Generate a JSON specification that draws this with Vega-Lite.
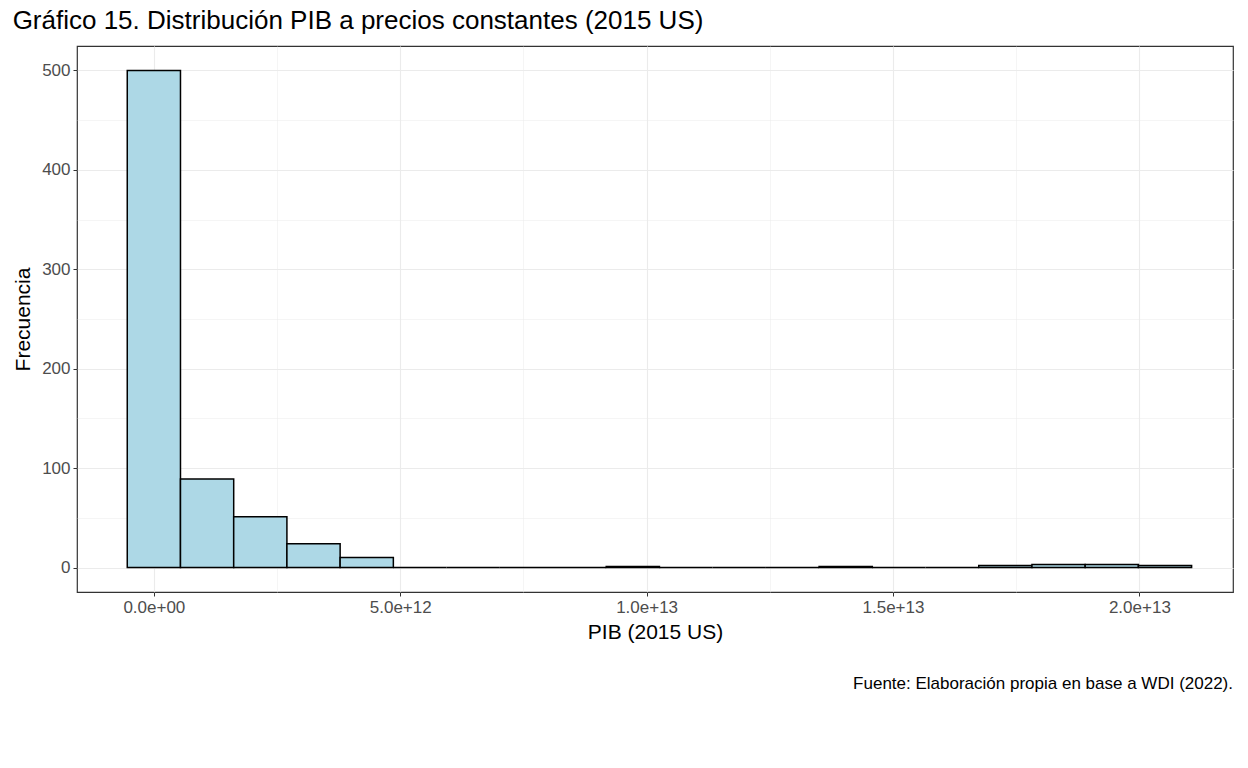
{
  "$schema": "https://vega.github.io/schema/vega-lite/v6.json",
  "width": 1248,
  "height": 768,
  "autosize": {"type": "fit", "contains": "padding"},
  "padding": {"left": 12, "right": 15, "top": 8, "bottom": 38},
  "background": "white",
  "title": {"text": "Gráfico 15. Distribución PIB a precios constantes (2015 US)", "anchor": "start", "font": "Liberation Sans", "fontSize": 26, "fontWeight": "normal", "color": "black", "offset": 12},
  "config": {"view": {"stroke": "#333333", "strokeWidth": 1.2}, "font": "Liberation Sans"},
  "data": {"values": [
    {"x0": -0.54e12, "x1": 0.54e12, "n": 500, "z": 0},
    {"x0": 0.54e12, "x1": 1.62e12, "n": 89, "z": 0},
    {"x0": 1.62e12, "x1": 2.70e12, "n": 51, "z": 0},
    {"x0": 2.70e12, "x1": 3.78e12, "n": 24, "z": 0},
    {"x0": 3.78e12, "x1": 4.86e12, "n": 10, "z": 0},
    {"x0": 4.86e12, "x1": 5.94e12, "n": 0, "z": 0},
    {"x0": 5.94e12, "x1": 7.02e12, "n": 0, "z": 0},
    {"x0": 7.02e12, "x1": 8.10e12, "n": 0, "z": 0},
    {"x0": 8.10e12, "x1": 9.18e12, "n": 0, "z": 0},
    {"x0": 9.18e12, "x1": 10.26e12, "n": 1, "z": 0},
    {"x0": 10.26e12, "x1": 11.34e12, "n": 0, "z": 0},
    {"x0": 11.34e12, "x1": 12.42e12, "n": 0, "z": 0},
    {"x0": 12.42e12, "x1": 13.50e12, "n": 0, "z": 0},
    {"x0": 13.50e12, "x1": 14.58e12, "n": 1, "z": 0},
    {"x0": 14.58e12, "x1": 15.66e12, "n": 0, "z": 0},
    {"x0": 15.66e12, "x1": 16.74e12, "n": 0, "z": 0},
    {"x0": 16.74e12, "x1": 17.82e12, "n": 2, "z": 0},
    {"x0": 17.82e12, "x1": 18.90e12, "n": 3, "z": 0},
    {"x0": 18.90e12, "x1": 19.98e12, "n": 3, "z": 0},
    {"x0": 19.98e12, "x1": 21.06e12, "n": 2, "z": 0}
  ]},
  "layer": [
    {
      "mark": {"type": "rect", "fill": "#add8e6", "stroke": "black", "strokeWidth": 1.5},
      "encoding": {
        "x": {"field": "x0", "type": "quantitative",
          "scale": {"domain": [-1.56e12, 21.9e12], "nice": false, "zero": false},
          "title": "PIB (2015 US)",
          "axis": {"values": [-2.5e12, 0, 2.5e12, 5e12, 7.5e12, 1e13, 1.25e13, 1.5e13, 1.75e13, 2e13],
            "labelExpr": "datum.value === 0 ? '0.0e+00' : datum.value === 5e12 ? '5.0e+12' : datum.value === 1e13 ? '1.0e+13' : datum.value === 1.5e13 ? '1.5e+13' : datum.value === 2e13 ? '2.0e+13' : ''",
            "gridColor": "#ebebeb",
            "gridWidth": {"condition": {"test": "datum.value % 5e12 === 0", "value": 1.1}, "value": 0.5},
            "tickColor": {"condition": {"test": "datum.value % 5e12 === 0", "value": "#333333"}, "value": "transparent"},
            "tickSize": 4,
            "domain": false, "labelColor": "#4d4d4d", "labelFontSize": 17, "titleFontSize": 21, "titleFontWeight": "normal", "titleColor": "black", "labelPadding": 3, "titlePadding": 6}},
        "x2": {"field": "x1"},
        "y": {"field": "n", "type": "quantitative",
          "scale": {"domain": [-24.6, 524.6], "nice": false, "zero": false},
          "title": "Frecuencia",
          "axis": {"values": [0, 50, 100, 150, 200, 250, 300, 350, 400, 450, 500],
            "labelExpr": "datum.value % 100 === 0 ? datum.label : ''",
            "gridColor": "#ebebeb",
            "gridWidth": {"condition": {"test": "datum.value % 100 === 0", "value": 1.1}, "value": 0.5},
            "tickColor": {"condition": {"test": "datum.value % 100 === 0", "value": "#333333"}, "value": "transparent"},
            "tickSize": 4,
            "domain": false, "labelColor": "#4d4d4d", "labelFontSize": 17, "titleFontSize": 21, "titleFontWeight": "normal", "titleColor": "black", "labelPadding": 3, "titlePadding": 8}},
        "y2": {"field": "z"}
      }
    },
    {
      "data": {"values": [{"t": "Fuente: Elaboración propia en base a WDI (2022).", "px": 21.9e12, "py": -117}]},
      "mark": {"type": "text", "align": "right", "baseline": "middle", "fontSize": 17, "color": "black", "clip": false},
      "encoding": {
        "text": {"field": "t", "type": "nominal"},
        "x": {"field": "px", "type": "quantitative"},
        "y": {"field": "py", "type": "quantitative"}
      }
    }
  ]
}
